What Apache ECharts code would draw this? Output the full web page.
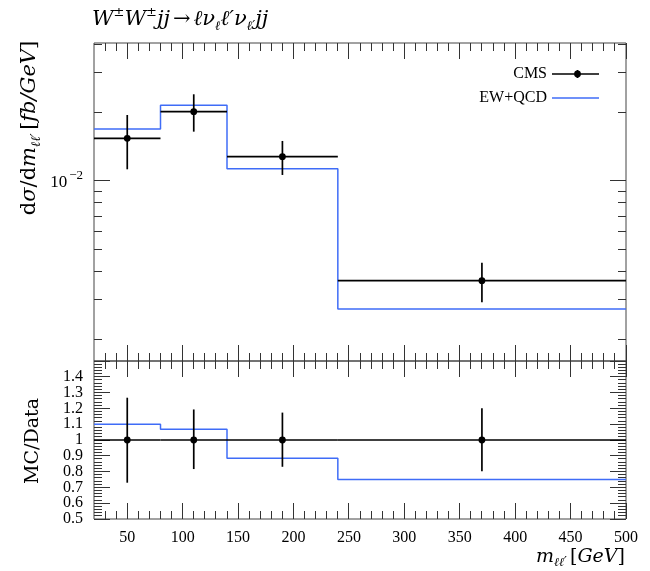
<!DOCTYPE html>
<html>
<head>
<meta charset="utf-8">
<script src="https://cdn.jsdelivr.net/npm/echarts@6/dist/echarts.min.js"></script>
<style>html,body{margin:0;padding:0;background:#fff}#c{width:650px;height:571px}</style>
</head>
<body>
<div id="c"></div>
<script>
// ---------------- data ----------------
var binEdges   = [20, 80, 140, 240, 500];
var binCenters = [50, 110, 190, 370];
var cmsValues  = [0.01543, 0.02023, 0.01280, 0.00363];
var cmsErrHigh = [0.01956, 0.02414, 0.01502, 0.00436];
var cmsErrLow  = [0.01126, 0.01651, 0.01063, 0.002913];
var mcValues   = [0.01697, 0.02160, 0.01133, 0.00272];

// ---------------- ticks ----------------
var xTickLabels = [50, 100, 150, 200, 250, 300, 350, 400, 450, 500];
var xMajorTicks = [50, 100, 150, 200, 250, 300, 350, 400, 450, 500];
var xMinorTicks = [30, 40, 60, 70, 80, 90, 110, 120, 130, 140, 160, 170, 180, 190,
  210, 220, 230, 240, 260, 270, 280, 290, 310, 320, 330, 340, 360, 370, 380, 390,
  410, 420, 430, 440, 460, 470, 480, 490];
var yTopMajorTicks = [0.01];
var yTopMinorTicks = [0.002, 0.003, 0.004, 0.005, 0.006, 0.007, 0.008, 0.009, 0.02, 0.03, 0.04];
var yRatioTickLabels = [0.5, 0.6, 0.7, 0.8, 0.9, 1.0, 1.1, 1.2, 1.3, 1.4];
var yRatioMajorTicks = [0.5, 0.6, 0.7, 0.8, 0.9, 1.0, 1.1, 1.2, 1.3, 1.4, 1.5];
var yRatioMinorTicks = [0.52, 0.54, 0.56, 0.58, 0.62, 0.64, 0.66, 0.68, 0.72, 0.74, 0.76, 0.78,
  0.82, 0.84, 0.86, 0.88, 0.92, 0.94, 0.96, 0.98, 1.02, 1.04, 1.06, 1.08, 1.12, 1.14, 1.16, 1.18,
  1.22, 1.24, 1.26, 1.28, 1.32, 1.34, 1.36, 1.38, 1.42, 1.44, 1.46, 1.48];

// ---------------- style ----------------
var BLUE = '#3f6cf7';
var TICK = '#333';
var FRAME = '#444';
var NUMFONT = 'Liberation Serif';
var TFONT = 'DejaVu Serif';
var MAJ = 16, MIN = 8;

var n = cmsValues.length;

function stepData(vals) {
  var out = [];
  for (var i = 0; i < vals.length; i++) {
    out.push([binEdges[i], vals[i]]);
    out.push([binEdges[i + 1], vals[i]]);
  }
  return out;
}

var mcRatio = [], ratioItems = [], cmsItems = [];
for (var i = 0; i < n; i++) {
  mcRatio.push(mcValues[i] / cmsValues[i]);
  cmsItems.push([binEdges[i], binEdges[i + 1], binCenters[i], cmsValues[i], cmsErrLow[i], cmsErrHigh[i]]);
  ratioItems.push([binEdges[i], binEdges[i + 1], binCenters[i], 1, cmsErrLow[i] / cmsValues[i], cmsErrHigh[i] / cmsValues[i]]);
}

function crisp(v) { return Math.round(v - 0.5) + 0.5; }

function xTickSeries(g, yRef, values, len) {
  return {
    type: 'custom', xAxisIndex: g, yAxisIndex: g, silent: true, z: 4,
    data: values.map(function (v) { return [v, yRef]; }),
    renderItem: function (params, api) {
      var cs = params.coordSys;
      var x = crisp(api.coord([api.value(0), yRef])[0]);
      var top = cs.y, bot = cs.y + cs.height;
      return { type: 'group', children: [
        { type: 'line', shape: { x1: x, y1: bot, x2: x, y2: bot - len }, style: { stroke: TICK, lineWidth: 1 } },
        { type: 'line', shape: { x1: x, y1: top, x2: x, y2: top + len }, style: { stroke: TICK, lineWidth: 1 } }
      ] };
    }
  };
}

function yTickSeries(g, xRef, values, len, withLabel) {
  return {
    type: 'custom', xAxisIndex: g, yAxisIndex: g, silent: true, z: 4,
    data: values.map(function (v) { return [xRef, v]; }),
    renderItem: function (params, api) {
      var cs = params.coordSys;
      var y = crisp(api.coord([xRef, api.value(1)])[1]);
      var l = cs.x, r = cs.x + cs.width;
      var ch = [
        { type: 'line', shape: { x1: l, y1: y, x2: l + len, y2: y }, style: { stroke: TICK, lineWidth: 1 } },
        { type: 'line', shape: { x1: r, y1: y, x2: r - len, y2: y }, style: { stroke: TICK, lineWidth: 1 } }
      ];
      if (withLabel) {
        var exp = Math.round(Math.log(api.value(1)) / Math.LN10);
        ch.push({ type: 'text', x: l - 11, y: y + 2, style: {
          text: '{b|10}{s|' + (exp < 0 ? '\u2212' : '') + Math.abs(exp) + '}',
          align: 'right', verticalAlign: 'middle',
          rich: {
            b: { fontFamily: NUMFONT, fontSize: 17, fill: '#000', verticalAlign: 'middle' },
            s: { fontFamily: NUMFONT, fontSize: 13, fill: '#000', verticalAlign: 'middle', padding: [0, 0, 13, 2] }
          }
        } });
      }
      return { type: 'group', children: ch };
    }
  };
}

function pointSeries(g, items) {
  return {
    type: 'custom', xAxisIndex: g, yAxisIndex: g, z: 10, silent: true,
    data: items,
    encode: { x: [0, 1, 2], y: [3, 4, 5] },
    renderItem: function (params, api) {
      var pL = api.coord([api.value(0), api.value(3)]);
      var pR = api.coord([api.value(1), api.value(3)]);
      var pC = api.coord([api.value(2), api.value(3)]);
      var pLo = api.coord([api.value(2), api.value(4)]);
      var pHi = api.coord([api.value(2), api.value(5)]);
      return { type: 'group', children: [
        { type: 'line', shape: { x1: pL[0], y1: pL[1], x2: pR[0], y2: pR[1] }, style: { stroke: '#000', lineWidth: 1.7 } },
        { type: 'line', shape: { x1: pLo[0], y1: pLo[1], x2: pHi[0], y2: pHi[1] }, style: { stroke: '#000', lineWidth: 1.7 } },
        { type: 'circle', shape: { cx: pC[0], cy: pC[1], r: 3.4 }, style: { fill: '#000' } }
      ] };
    }
  };
}

function makeRich(sz) {
  var s = Math.round(sz * 0.63);
  return {
    it: { fontFamily: TFONT, fontStyle: 'italic', fontSize: sz, fill: '#000', verticalAlign: 'middle' },
    rm: { fontFamily: TFONT, fontSize: sz, fill: '#000', verticalAlign: 'middle' },
    sp: { fontFamily: TFONT, fontSize: sz, fill: '#000', verticalAlign: 'middle', padding: [0, 3, 0, 3] },
    sub: { fontFamily: TFONT, fontStyle: 'italic', fontSize: s, fill: '#000', verticalAlign: 'middle', padding: [Math.round(sz * 0.6), 0, 0, 0] },
    sup: { fontFamily: TFONT, fontSize: s, fill: '#000', verticalAlign: 'middle', padding: [0, 0, Math.round(sz * 0.7), 0] }
  };
}
var richBig = makeRich(21);
var richMid = makeRich(19);

var chart = echarts.init(document.getElementById('c'), null, { renderer: 'canvas' });
chart.setOption({
  animation: false,
  backgroundColor: '#fff',
  grid: [
    { left: 94, top: 43, width: 532, height: 318, show: true, borderColor: FRAME, borderWidth: 1, backgroundColor: 'transparent', outerBoundsMode: 'none', containLabel: false },
    { left: 94, top: 361, width: 532, height: 158, show: true, borderColor: FRAME, borderWidth: 1, backgroundColor: 'transparent', outerBoundsMode: 'none', containLabel: false }
  ],
  xAxis: [
    { type: 'value', gridIndex: 0, min: 20, max: 500, show: false },
    { type: 'value', gridIndex: 1, min: 20, max: 500,
      axisLine: { show: false }, axisTick: { show: false }, splitLine: { show: false },
      axisLabel: { customValues: xTickLabels, fontFamily: NUMFONT, fontSize: 16, color: '#000', margin: 11 } }
  ],
  yAxis: [
    { type: 'log', logBase: 10, gridIndex: 0, min: 0.001604, max: 0.04066, show: false },
    { type: 'value', gridIndex: 1, min: 0.5, max: 1.5,
      axisLine: { show: false }, axisTick: { show: false }, splitLine: { show: false },
      axisLabel: { customValues: yRatioTickLabels, fontFamily: NUMFONT, fontSize: 16, color: '#000', margin: 11,
        formatter: function (v) { return String(Math.round(v * 10) / 10); } } }
  ],
  series: [
    xTickSeries(0, 0.01, xMajorTicks, MAJ),
    xTickSeries(0, 0.01, xMinorTicks, MIN),
    yTickSeries(0, 100, yTopMajorTicks, MAJ, true),
    yTickSeries(0, 100, yTopMinorTicks, MIN, false),
    xTickSeries(1, 1, xMajorTicks, MAJ),
    xTickSeries(1, 1, xMinorTicks, MIN),
    yTickSeries(1, 100, yRatioMajorTicks, MAJ, false),
    yTickSeries(1, 100, yRatioMinorTicks, MIN, false),
    { type: 'line', xAxisIndex: 0, yAxisIndex: 0, data: stepData(mcValues), symbol: 'none', silent: true, z: 6,
      lineStyle: { color: BLUE, width: 1.5 } },
    pointSeries(0, cmsItems),
    { type: 'line', xAxisIndex: 1, yAxisIndex: 1, data: stepData(mcRatio), symbol: 'none', silent: true, z: 6,
      lineStyle: { color: BLUE, width: 1.5 } },
    pointSeries(1, ratioItems)
  ],
  graphic: [
    { type: 'text', x: 92, y: 20, style: {
      text: '{it|W}{sup|\u00b1}{it|W}{sup|\u00b1}{it|jj}{sp|\u2192}{it|\u2113\u03bd}{sub|\u2113}{it|\u2113\u2032\u03bd}{sub|\u2113\u2032}{it|jj}',
      align: 'left', verticalAlign: 'middle', rich: richBig } },
    { type: 'text', x: 30, y: 128, rotation: Math.PI / 2, style: {
      text: '{rm|d}{it|\u03c3}{rm|/d}{it|m}{sub|\u2113\u2113\u2032} {rm|[}{it|fb/GeV}{rm|]}',
      align: 'center', verticalAlign: 'middle', rich: richBig } },
    { type: 'text', x: 33, y: 441, rotation: Math.PI / 2, style: {
      text: '{rm|MC/Data}', align: 'center', verticalAlign: 'middle', rich: richMid } },
    { type: 'text', x: 625, y: 557, style: {
      text: '{it|m}{sub|\u2113\u2113\u2032} {rm|[}{it|GeV}{rm|]}',
      align: 'right', verticalAlign: 'middle', rich: richMid } },
    // legend
    { type: 'text', x: 547, y: 74, style: { text: 'CMS', fontFamily: NUMFONT, fontSize: 16, fill: '#000', align: 'right', verticalAlign: 'middle' } },
    { type: 'line', shape: { x1: 552, y1: 74, x2: 599, y2: 74 }, style: { stroke: '#000', lineWidth: 1.7 } },
    { type: 'line', shape: { x1: 577.5, y1: 70, x2: 577.5, y2: 78 }, style: { stroke: '#000', lineWidth: 1.7 } },
    { type: 'circle', shape: { cx: 577.5, cy: 74, r: 3.4 }, style: { fill: '#000' } },
    { type: 'text', x: 547, y: 98, style: { text: 'EW+QCD', fontFamily: NUMFONT, fontSize: 16, fill: '#000', align: 'right', verticalAlign: 'middle' } },
    { type: 'line', shape: { x1: 552, y1: 98, x2: 599, y2: 98 }, style: { stroke: BLUE, lineWidth: 1.5 } }
  ]
});
</script>
</body>
</html>
